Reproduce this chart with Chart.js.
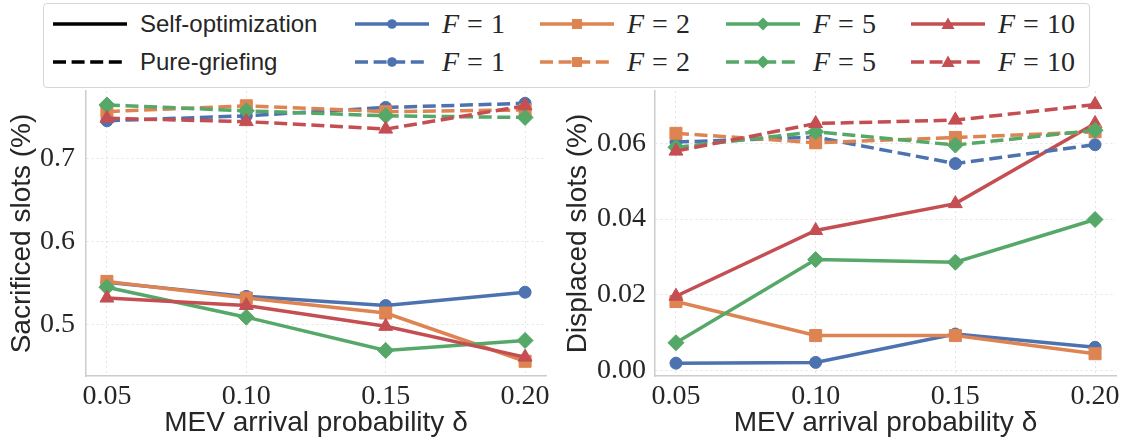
<!DOCTYPE html>
<html>
<head>
<meta charset="utf-8">
<script src="https://cdn.jsdelivr.net/npm/chart.js@4.4.0/dist/chart.umd.min.js"></script>
<style>
  html, body { margin: 0; padding: 0; background: #fff; }
  #wrap { position: relative; width: 1123px; height: 440px; overflow: hidden; }
  .panel { position: absolute; top: 0; }
  #legend { position: absolute; left: 43px; top: 3px; width: 1045px; height: 83px;
            border: 1px solid #d6d6d6; border-radius: 4px; background: #fff; }
  .item { position: absolute; height: 36px; display: flex; align-items: center; white-space: nowrap; }
  .item svg { flex: none; }
  .lab { font-family: "Liberation Sans", Arial, sans-serif; font-size: 24px; color: #262626; margin-left: 13px; }
  .math { font-family: "Liberation Serif", "Times New Roman", serif; font-size: 28px; color: #262626; margin-left: 13px; }
  .math .eq { margin: 0 8px; }
</style>
</head>
<body>
<div id="wrap">
  <div class="panel" style="left:0"><canvas id="sacChart" width="561" height="440"></canvas></div>
  <div class="panel" style="left:561px"><canvas id="dispChart" width="562" height="440"></canvas></div>
  <div id="legend"></div>
</div>
<script>
// x values (MEV arrival probability)
const deltas = [0.05, 0.10, 0.15, 0.20];
const fLabels = ['1', '2', '5', '10'];

// Sacrificed slots (%) - self-optimization, one array per F
const sacSelfF1 = [0.551, 0.534, 0.523, 0.539];
const sacSelfF2 = [0.552, 0.532, 0.514, 0.456];
const sacSelfF5 = [0.545, 0.509, 0.469, 0.481];
const sacSelfF10 = [0.532, 0.523, 0.498, 0.461];
// Sacrificed slots (%) - pure griefing
const sacGriefF1 = [0.745, 0.751, 0.761, 0.766];
const sacGriefF2 = [0.756, 0.763, 0.756, 0.758];
const sacGriefF5 = [0.764, 0.757, 0.751, 0.749];
const sacGriefF10 = [0.748, 0.744, 0.735, 0.763];

// Displaced slots (%) - self-optimization
const dispSelfF1 = [0.0019, 0.0021, 0.0096, 0.0061];
const dispSelfF2 = [0.0182, 0.0092, 0.0092, 0.0044];
const dispSelfF5 = [0.0073, 0.0293, 0.0286, 0.0399];
const dispSelfF10 = [0.0196, 0.0370, 0.0441, 0.0653];
// Displaced slots (%) - pure griefing
const dispGriefF1 = [0.0604, 0.0617, 0.0547, 0.0597];
const dispGriefF2 = [0.0627, 0.0602, 0.0616, 0.0631];
const dispGriefF5 = [0.0590, 0.0631, 0.0596, 0.0635];
const dispGriefF10 = [0.0580, 0.0653, 0.0662, 0.0703];

const sacTicks = [0.5, 0.6, 0.7];
const dispTicks = [0.00, 0.02, 0.04, 0.06];

// styling
const colors = ['#4C72B0', '#DD8452', '#55A868', '#C44E52'];
const markers = ['circle', 'rect', 'rectRot', 'triangle'];
const markerRadius = [6, 8.5, 8, 8];
const dashPattern = [13, 5.6];
const serif = '"Liberation Serif", "Times New Roman", serif';
const sans = '"Liberation Sans", Arial, sans-serif';
const textColor = '#262626';

function makeDatasets(selfRows, griefRows) {
  let sets = [];
  let all = selfRows.concat(griefRows);
  for (let i = 0; i < all.length; i++) {
    let k = i % 4;
    let dashed = i >= 4;
    sets.push({
      label: (dashed ? 'Pure-griefing F=' : 'Self-optimization F=') + fLabels[k],
      data: deltas.map((d, j) => ({ x: d, y: all[i][j] })),
      borderColor: colors[k],
      backgroundColor: colors[k],
      borderWidth: 3.5,
      borderDash: dashed ? dashPattern : [],
      pointStyle: markers[k],
      pointRadius: markerRadius[k],
      pointBorderWidth: 1,
      pointBorderColor: colors[k],
      pointBackgroundColor: colors[k],
      tension: 0,
      order: all.length - i   // later series drawn on top
    });
  }
  return sets;
}

function panelOptions(yMin, yMax, yTicks, digits, yTitle, yWidth, tickPad, titlePad, padRight) {
  return {
    responsive: false,
    animation: false,
    devicePixelRatio: 1,
    layout: { autoPadding: false, padding: { top: 91, right: padRight, bottom: 0, left: 0 } },
    plugins: { legend: { display: false }, tooltip: { enabled: false } },
    scales: {
      x: {
        type: 'linear',
        min: 0.0425,
        max: 0.2075,
        afterBuildTicks: s => { s.ticks = deltas.map(v => ({ value: v })); },
        afterFit: s => { s.height = 64; s.paddingLeft = 0; s.paddingRight = 0; },
        ticks: { padding: 4, autoSkip: false, maxRotation: 0, color: textColor,
                 font: { family: serif, size: 28 }, callback: v => v.toFixed(2) },
        grid: { color: '#e4e4e4', lineWidth: 1, drawTicks: false },
        border: { color: '#cccccc', width: 1.5, dash: [2, 3] },
        title: { display: true, text: 'MEV arrival probability δ', color: textColor,
                 font: { family: sans, size: 28 }, padding: { top: 0, bottom: 0 } }
      },
      y: {
        type: 'linear',
        min: yMin,
        max: yMax,
        afterBuildTicks: s => { s.ticks = yTicks.map(v => ({ value: v })); },
        afterFit: s => { s.width = yWidth; s.paddingTop = 0; s.paddingBottom = 0; },
        ticks: { padding: tickPad, color: textColor, font: { family: serif, size: 28 },
                 callback: v => v.toFixed(digits) },
        grid: { color: '#e4e4e4', lineWidth: 1, drawTicks: false },
        border: { color: '#cccccc', width: 1.5, dash: [2, 3] },
        title: { display: true, text: yTitle, color: textColor,
                 font: { family: sans, size: 28 }, padding: { top: titlePad, bottom: 0 } }
      }
    }
  };
}

new Chart(document.getElementById('sacChart'), {
  type: 'line',
  data: { datasets: makeDatasets([sacSelfF1, sacSelfF2, sacSelfF5, sacSelfF10],
                                 [sacGriefF1, sacGriefF2, sacGriefF5, sacGriefF10]) },
  options: panelOptions(0.4383, 0.7808, sacTicks, 1, 'Sacrificed slots (%)', 86, 11, 5, 15)
});

new Chart(document.getElementById('dispChart'), {
  type: 'line',
  data: { datasets: makeDatasets([dispSelfF1, dispSelfF2, dispSelfF5, dispSelfF10],
                                 [dispGriefF1, dispGriefF2, dispGriefF5, dispGriefF10]) },
  options: panelOptions(-0.0015, 0.0739, dispTicks, 2, 'Displaced slots (%)', 94, 9, 0, 7)
});

// legend (html + svg samples)
function markerSvg(style, color) {
  let cx = 37, cy = 18;
  if (style == 'circle') return `<circle cx="${cx}" cy="${cy}" r="4.8" fill="${color}"/>`;
  if (style == 'rect') return `<rect x="${cx - 5}" y="${cy - 5}" width="10" height="10" fill="${color}"/>`;
  if (style == 'rectRot') return `<polygon points="${cx},${cy - 6.5} ${cx + 6.5},${cy} ${cx},${cy + 6.5} ${cx - 6.5},${cy}" fill="${color}"/>`;
  return `<polygon points="${cx},${cy - 6.5} ${cx + 6.5},${cy + 5} ${cx - 6.5},${cy + 5}" fill="${color}"/>`;
}

function sampleSvg(color, dashed, style) {
  let dash = dashed ? ` stroke-dasharray="${dashPattern.join(' ')}"` : '';
  let mark = style ? markerSvg(style, color) : '';
  return `<svg width="74" height="36"><line x1="0" y1="18" x2="74" y2="18" stroke="${color}" stroke-width="3.5"${dash}/>${mark}</svg>`;
}

const legendEl = document.getElementById('legend');
const colX = [53, 355, 540, 726, 911];
const rowY = [24, 62];
function addItem(x, y, svg, html) {
  let d = document.createElement('div');
  d.className = 'item';
  d.style.left = (x - 44) + 'px';
  d.style.top = (y - 4 - 18) + 'px';
  d.innerHTML = svg + html;
  legendEl.appendChild(d);
}
addItem(colX[0], rowY[0], sampleSvg('#000', false, null), '<span class="lab">Self-optimization</span>');
addItem(colX[0], rowY[1], sampleSvg('#000', true, null), '<span class="lab">Pure-griefing</span>');
for (let k = 0; k < 4; k++) {
  for (let r = 0; r < 2; r++) {
    addItem(colX[k + 1], rowY[r], sampleSvg(colors[k], r == 1, markers[k]),
      `<span class="math"><i>F</i><span class="eq">=</span>${fLabels[k]}</span>`);
  }
}
</script>
</body>
</html>
